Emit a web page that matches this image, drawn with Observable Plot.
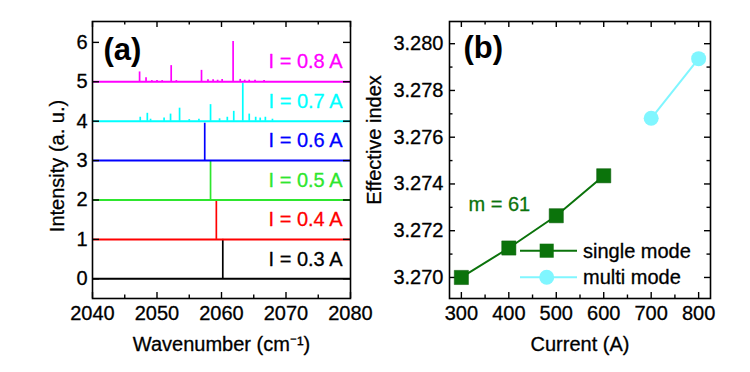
<!DOCTYPE html>
<html>
<head>
<meta charset="utf-8">
<script src="https://cdn.jsdelivr.net/npm/d3@7"></script>
<script src="https://cdn.jsdelivr.net/npm/@observablehq/plot@0.6"></script>
<style>
  html, body { margin: 0; padding: 0; background: #fff; }
  #wrap { position: relative; width: 750px; height: 372px; background: #fff; overflow: hidden;
          font-family: "Liberation Sans", Arial, sans-serif; }
  #pa { position: absolute; left: 0; top: 0; }
  #pb { position: absolute; left: 375px; top: 0; }
  #legend { position: absolute; left: 0; top: 0; pointer-events: none; }
  g[aria-label="x-axis tick label"] text, g[aria-label="y-axis tick label"] text {
    stroke: black; stroke-width: 0.3px;
  }
</style>
</head>
<body>
<div id="wrap">
  <div id="pa"></div>
  <div id="pb"></div>
  <svg id="legend" width="750" height="372"></svg>
</div>
<script>
// ---------------- Data: panel (a) ----------------
const spectrumCurrents = ["0.3", "0.4", "0.5", "0.6", "0.7", "0.8"];
const spectrumOffsets = [0, 1, 2, 3, 4, 5];
// peaks: [wavenumber (cm^-1), height above the spectrum's baseline]
const peaks03 = [[2060.2, 1.0]];
const peaks04 = [[2059.2, 1.0]];
const peaks05 = [[2058.3, 1.0]];
const peaks06 = [[2057.4, 0.95]];
const peaks07 = [[2047.4, 0.10], [2048.5, 0.20], [2049.0, 0.05], [2051.1, 0.08], [2052.1, 0.18],
                 [2053.5, 0.33], [2055.0, 0.04], [2056.5, 0.05], [2058.3, 0.42], [2059.7, 0.06],
                 [2060.9, 0.10], [2061.9, 0.25], [2063.3, 0.96], [2064.3, 0.18], [2065.3, 0.10],
                 [2066.0, 0.08], [2066.8, 0.10], [2067.9, 0.05]];
const peaks08 = [[2047.3, 0.25], [2048.3, 0.10], [2049.2, 0.03], [2050.0, 0.03], [2050.8, 0.03],
                 [2052.2, 0.41], [2053.0, 0.03], [2056.9, 0.29], [2057.9, 0.05], [2058.7, 0.05],
                 [2059.4, 0.04], [2060.1, 0.06], [2061.8, 1.02], [2062.9, 0.06], [2063.6, 0.04],
                 [2064.3, 0.04], [2065.2, 0.04], [2066.6, 0.03]];
const spectrumPeaks = [peaks03, peaks04, peaks05, peaks06, peaks07, peaks08];
const wavenumberTicks = [2040, 2050, 2060, 2070, 2080];
const wavenumberMinorTicks = [2045, 2055, 2065, 2075];
const intensityTicks = [0, 1, 2, 3, 4, 5, 6];

// ---------------- Data: panel (b) ----------------
const singleCurrent = [300, 400, 500, 600];
const singleIndex = [3.2700, 3.27126, 3.27264, 3.27435];
const multiCurrent = [700, 800];
const multiIndex = [3.27681, 3.27936];
const currentTicks = [300, 400, 500, 600, 700, 800];
const currentMinorTicks = [350, 450, 550, 650, 750];
const indexTicks = [3.270, 3.272, 3.274, 3.276, 3.278, 3.280];
const indexMinorTicks = [3.271, 3.273, 3.275, 3.277, 3.279];
const slopeLabel = "m = 61";

// ---------------- Styles ----------------
const FONT = "'Liberation Sans', Arial, sans-serif";
const spectrumColors = ["#000000", "#ff0000", "#2ee62e", "#0000ff", "#00ffff", "#ff00ff"];
const GREEN = "#0b730b";
const CYAN = "#80f6ff";
const H = 372, MT = 21, MB = 74;
const innerH = H - MT - MB;
const TS = 0.3; // faint text stroke to mimic the heavier original lettering

function inwardTicks(xs, ys, innerW, majorX, majorY) {
  const sw = 1.4;
  const m = [];
  const add = (arr, len, isX) => {
    if (isX) {
      m.push(Plot.ruleX(arr, {x: d => d, insetTop: innerH - len, stroke: "black", strokeWidth: sw}));
      m.push(Plot.ruleX(arr, {x: d => d, insetBottom: innerH - len, stroke: "black", strokeWidth: sw}));
    } else {
      m.push(Plot.ruleY(arr, {y: d => d, insetRight: innerW - len, stroke: "black", strokeWidth: sw}));
      m.push(Plot.ruleY(arr, {y: d => d, insetLeft: innerW - len, stroke: "black", strokeWidth: sw}));
    }
  };
  add(xs[0], majorX, true); add(xs[1], 3.5, true);
  add(ys[0], majorY, false); if (ys[1]) add(ys[1], 3.5, false);
  return m;
}

// ---------------- Panel (a) ----------------
{
  const W = 370, ML = 92, MR = 20;
  const innerW = W - ML - MR;
  const marks = [];
  spectrumOffsets.forEach((off, i) => {
    marks.push(Plot.ruleY([off], {y: d => d, stroke: spectrumColors[i], strokeWidth: 2}));
    marks.push(Plot.ruleX(spectrumPeaks[i], {
      x: d => d[0], y1: () => off, y2: d => off + d[1],
      stroke: spectrumColors[i], strokeWidth: 1.7
    }));
    marks.push(Plot.text([`I = ${spectrumCurrents[i]} A`], {
      frameAnchor: "right", y: () => off + 0.5, dx: -8, textAnchor: "end",
      fill: spectrumColors[i], stroke: spectrumColors[i], strokeWidth: TS, fontSize: 20, lineAnchor: "middle"
    }));
  });
  marks.push(...inwardTicks([wavenumberTicks, wavenumberMinorTicks], [intensityTicks, null], innerW, 6, 7));
  marks.push(Plot.frame({stroke: "black", strokeWidth: 1.6}));
  marks.push(Plot.axisX(wavenumberTicks, {tickSize: 0, tickPadding: 7, tickFormat: d => String(d), label: null, fontSize: 20}));
  marks.push(Plot.axisY(intensityTicks, {tickSize: 0, tickPadding: 5, tickFormat: d => String(d), label: null, fontSize: 20}));
  marks.push(Plot.text(["(a)"], {frameAnchor: "top-left", dx: 11, dy: 16, textAnchor: "start", lineAnchor: "top",
    fontSize: 31, fontWeight: "bold", fill: "black"}));
  marks.push(Plot.text(["Wavenumber (cm\u207B\u00B9)"], {frameAnchor: "bottom", dy: 38, lineAnchor: "top", textAnchor: "middle",
    fontSize: 20, fill: "black", stroke: "black", strokeWidth: TS}));
  marks.push(Plot.text(["Intensity (a. u.)"], {frameAnchor: "left", dx: -35, dy: 6, rotate: -90, textAnchor: "middle",
    lineAnchor: "middle", fontSize: 20, fill: "black", stroke: "black", strokeWidth: TS}));

  const p = Plot.plot({
    width: W, height: H, marginLeft: ML, marginRight: MR, marginTop: MT, marginBottom: MB,
    style: {fontFamily: FONT, fontSize: "20px", color: "black", background: "transparent", overflow: "visible"},
    x: {domain: [2040, 2080]},
    y: {domain: [-0.5, 6.53]},
    marks
  });
  document.getElementById("pa").appendChild(p);
}

// ---------------- Panel (b) ----------------
{
  const W = 375, ML = 74, MR = 40;
  const innerW = W - ML - MR;
  const single = singleCurrent.map((c, i) => ({c, n: singleIndex[i]}));
  const multi = multiCurrent.map((c, i) => ({c, n: multiIndex[i]}));
  const marks = [
    ...inwardTicks([currentTicks, currentMinorTicks], [indexTicks, indexMinorTicks], innerW, 6, 6),
    Plot.line(single, {x: "c", y: "n", stroke: GREEN, strokeWidth: 2}),
    Plot.dot(single, {x: "c", y: "n", symbol: "square", r: 8, fill: GREEN, stroke: "#0a5a0a", strokeWidth: 0.5}),
    Plot.line(multi, {x: "c", y: "n", stroke: CYAN, strokeWidth: 2}),
    Plot.dot(multi, {x: "c", y: "n", symbol: "circle", r: 7.5, fill: CYAN}),
    Plot.frame({stroke: "black", strokeWidth: 1.6}),
    Plot.axisX(currentTicks, {tickSize: 0, tickPadding: 7, tickFormat: d => String(d), label: null, fontSize: 20}),
    Plot.axisY(indexTicks, {tickSize: 0, tickPadding: 6, tickFormat: d3.format(".3f"), label: null, fontSize: 20}),
    Plot.text(["(b)"], {frameAnchor: "top-left", dx: 14, dy: 14, textAnchor: "start", lineAnchor: "top",
      fontSize: 31, fontWeight: "bold", fill: "black"}),
    Plot.text([slopeLabel], {frameAnchor: "top-left", dx: 19, dy: 183, textAnchor: "start", lineAnchor: "middle",
      fontSize: 20, fill: GREEN, stroke: GREEN, strokeWidth: TS}),
    Plot.text(["Current (A)"], {frameAnchor: "bottom", dy: 38, lineAnchor: "top", textAnchor: "middle",
      fontSize: 20, fill: "black", stroke: "black", strokeWidth: TS}),
    Plot.text(["Effective index"], {frameAnchor: "left", dx: -75, dy: -20, rotate: -90, textAnchor: "middle",
      lineAnchor: "middle", fontSize: 20, fill: "black", stroke: "black", strokeWidth: TS})
  ];
  const p = Plot.plot({
    width: W, height: H, marginLeft: ML, marginRight: MR, marginTop: MT, marginBottom: MB,
    style: {fontFamily: FONT, fontSize: "20px", color: "black", background: "transparent", overflow: "visible"},
    x: {domain: [275, 825]},
    y: {domain: [3.2691, 3.28095]},
    marks
  });
  document.getElementById("pb").appendChild(p);
}

// ---------------- Legend for panel (b) ----------------
{
  const svg = d3.select("#legend");
  const items = [
    {label: "single mode", color: GREEN, shape: "square", y: 250.7},
    {label: "multi mode", color: CYAN, shape: "circle", y: 277.3}
  ];
  items.forEach(it => {
    const g = svg.append("g");
    g.append("line").attr("x1", 520).attr("x2", 577).attr("y1", it.y).attr("y2", it.y)
      .attr("stroke", it.color).attr("stroke-width", 2);
    if (it.shape === "square") {
      g.append("rect").attr("x", 546.7 - 7).attr("y", it.y - 7).attr("width", 14).attr("height", 14).attr("fill", it.color);
    } else {
      g.append("circle").attr("cx", 546.7).attr("cy", it.y).attr("r", 7.5).attr("fill", it.color);
    }
    g.append("text").attr("x", 583).attr("y", it.y).attr("dy", "0.35em")
      .attr("font-family", FONT).attr("font-size", 20).attr("fill", "black")
      .attr("stroke", "black").attr("stroke-width", TS).text(it.label);
  });
}
</script>
</body>
</html>
